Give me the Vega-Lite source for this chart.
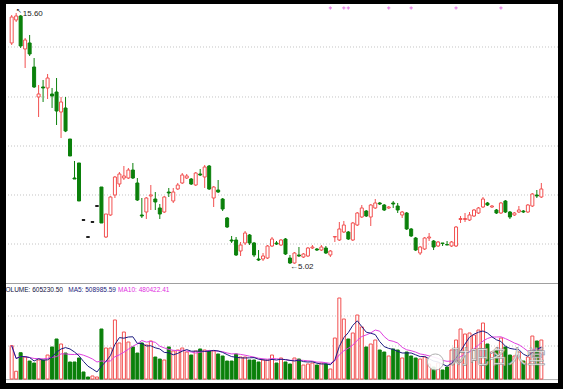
{
"$schema": "https://vega.github.io/schema/vega-lite/v6.json",
"background": "black",
"padding": {"left": 5, "top": 4, "right": 6, "bottom": 6},
"config": {"view": {"stroke": null, "fill": "white"}, "concat": {"spacing": 0}},
"datasets": {
"k": [
{"i":0,"o":14.336,"h":15.516,"l":14.251,"c":15.431,"d":"u","v":517000,"vd":"u"},
{"i":1,"o":15.305,"h":15.600,"l":15.221,"c":15.474,"d":"u","v":120000,"vd":"u"},
{"i":2,"o":15.474,"h":15.516,"l":14.125,"c":14.209,"d":"d","v":408000,"vd":"d"},
{"i":3,"o":14.083,"h":14.546,"l":13.282,"c":14.462,"d":"u","v":341000,"vd":"u"},
{"i":4,"o":14.336,"h":14.673,"l":13.788,"c":13.872,"d":"d","v":279000,"vd":"d"},
{"i":5,"o":13.324,"h":13.703,"l":12.439,"c":12.481,"d":"d","v":248000,"vd":"d"},
{"i":6,"o":12.059,"h":12.565,"l":11.216,"c":12.186,"d":"u","v":295000,"vd":"u"},
{"i":7,"o":12.481,"h":12.776,"l":11.849,"c":12.439,"d":"d","v":295000,"vd":"d"},
{"i":8,"o":12.439,"h":13.029,"l":11.975,"c":12.860,"d":"u","v":372000,"vd":"u"},
{"i":9,"o":12.186,"h":12.439,"l":11.596,"c":12.102,"d":"d","v":497000,"vd":"d"},
{"i":10,"o":12.270,"h":12.860,"l":10.879,"c":11.469,"d":"d","v":621000,"vd":"d"},
{"i":11,"o":11.427,"h":12.059,"l":10.331,"c":11.849,"d":"u","v":543000,"vd":"u"},
{"i":12,"o":11.596,"h":12.059,"l":10.580,"c":10.626,"d":"d","v":403000,"vd":"d"},
{"i":13,"o":10.289,"h":10.289,"l":9.573,"c":9.573,"d":"d","v":264000,"vd":"d"},
{"i":14,"o":8.645,"h":9.362,"l":8.603,"c":8.603,"d":"d","v":264000,"vd":"d"},
{"i":15,"o":9.278,"h":9.278,"l":7.676,"c":7.676,"d":"d","v":326000,"vd":"d"},
{"i":16,"o":6.885,"h":6.885,"l":6.865,"c":6.865,"d":"f","v":109000,"vd":"d"},
{"i":17,"o":6.168,"h":6.168,"l":6.148,"c":6.148,"d":"f","v":31000,"vd":"d"},
{"i":18,"o":6.801,"h":6.801,"l":6.781,"c":6.781,"d":"f","v":47000,"vd":"u"},
{"i":19,"o":7.475,"h":7.475,"l":7.455,"c":7.455,"d":"f","v":31000,"vd":"u"},
{"i":20,"o":8.266,"h":8.266,"l":6.749,"c":6.749,"d":"d","v":776000,"vd":"d"},
{"i":21,"o":6.158,"h":7.128,"l":6.116,"c":7.128,"d":"u","v":481000,"vd":"u"},
{"i":22,"o":7.086,"h":7.880,"l":7.050,"c":7.844,"d":"u","v":481000,"vd":"u"},
{"i":23,"o":7.929,"h":8.730,"l":7.802,"c":8.687,"d":"u","v":916000,"vd":"u"},
{"i":24,"o":8.392,"h":8.898,"l":8.266,"c":8.814,"d":"u","v":559000,"vd":"u"},
{"i":25,"o":8.645,"h":9.151,"l":8.561,"c":8.730,"d":"u","v":729000,"vd":"u"},
{"i":26,"o":8.645,"h":9.067,"l":8.603,"c":8.982,"d":"u","v":574000,"vd":"u"},
{"i":27,"o":8.982,"h":9.278,"l":8.603,"c":8.645,"d":"d","v":497000,"vd":"d"},
{"i":28,"o":8.435,"h":8.645,"l":7.676,"c":7.718,"d":"d","v":403000,"vd":"d"},
{"i":29,"o":7.086,"h":7.802,"l":6.959,"c":7.044,"d":"d","v":559000,"vd":"d"},
{"i":30,"o":7.212,"h":7.844,"l":6.917,"c":7.802,"d":"u","v":528000,"vd":"u"},
{"i":31,"o":7.887,"h":8.350,"l":7.296,"c":7.929,"d":"u","v":590000,"vd":"u"},
{"i":32,"o":7.760,"h":8.055,"l":7.296,"c":7.634,"d":"d","v":341000,"vd":"d"},
{"i":33,"o":7.381,"h":7.549,"l":6.917,"c":7.128,"d":"d","v":310000,"vd":"d"},
{"i":34,"o":7.212,"h":7.887,"l":7.170,"c":7.844,"d":"u","v":295000,"vd":"u"},
{"i":35,"o":8.055,"h":8.224,"l":7.844,"c":8.013,"d":"d","v":497000,"vd":"d"},
{"i":36,"o":7.676,"h":8.224,"l":7.592,"c":8.055,"d":"u","v":435000,"vd":"u"},
{"i":37,"o":8.182,"h":8.435,"l":8.139,"c":8.350,"d":"u","v":450000,"vd":"u"},
{"i":38,"o":8.435,"h":8.856,"l":8.392,"c":8.772,"d":"u","v":481000,"vd":"u"},
{"i":39,"o":8.645,"h":8.814,"l":8.603,"c":8.730,"d":"u","v":419000,"vd":"u"},
{"i":40,"o":8.603,"h":8.645,"l":8.350,"c":8.392,"d":"d","v":372000,"vd":"d"},
{"i":41,"o":8.350,"h":8.898,"l":8.308,"c":8.856,"d":"u","v":435000,"vd":"u"},
{"i":42,"o":8.814,"h":9.025,"l":8.730,"c":8.772,"d":"d","v":466000,"vd":"d"},
{"i":43,"o":8.687,"h":9.193,"l":8.224,"c":9.109,"d":"u","v":450000,"vd":"u"},
{"i":44,"o":9.151,"h":9.193,"l":8.140,"c":8.182,"d":"d","v":435000,"vd":"d"},
{"i":45,"o":7.802,"h":8.308,"l":7.423,"c":8.266,"d":"u","v":435000,"vd":"u"},
{"i":46,"o":8.139,"h":8.561,"l":8.013,"c":8.055,"d":"d","v":388000,"vd":"d"},
{"i":47,"o":7.760,"h":7.802,"l":7.254,"c":7.339,"d":"d","v":357000,"vd":"d"},
{"i":48,"o":6.959,"h":7.001,"l":6.538,"c":6.580,"d":"d","v":279000,"vd":"d"},
{"i":49,"o":6.032,"h":6.201,"l":5.906,"c":5.990,"d":"d","v":279000,"vd":"d"},
{"i":50,"o":6.032,"h":6.158,"l":5.358,"c":5.400,"d":"d","v":388000,"vd":"d"},
{"i":51,"o":5.568,"h":5.948,"l":5.358,"c":5.821,"d":"u","v":341000,"vd":"u"},
{"i":52,"o":5.906,"h":6.411,"l":5.821,"c":6.327,"d":"u","v":341000,"vd":"u"},
{"i":53,"o":6.243,"h":6.285,"l":5.821,"c":5.906,"d":"d","v":295000,"vd":"d"},
{"i":54,"o":5.906,"h":5.948,"l":5.315,"c":5.400,"d":"d","v":295000,"vd":"d"},
{"i":55,"o":5.231,"h":5.610,"l":5.147,"c":5.189,"d":"d","v":264000,"vd":"d"},
{"i":56,"o":5.231,"h":5.484,"l":5.147,"c":5.358,"d":"u","v":295000,"vd":"u"},
{"i":57,"o":5.273,"h":5.821,"l":5.231,"c":5.779,"d":"u","v":295000,"vd":"u"},
{"i":58,"o":5.779,"h":6.158,"l":5.737,"c":6.074,"d":"u","v":372000,"vd":"u"},
{"i":59,"o":5.906,"h":5.990,"l":5.821,"c":5.863,"d":"d","v":248000,"vd":"d"},
{"i":60,"o":5.821,"h":6.074,"l":5.779,"c":6.032,"d":"u","v":326000,"vd":"u"},
{"i":61,"o":6.074,"h":6.116,"l":5.400,"c":5.442,"d":"d","v":264000,"vd":"d"},
{"i":62,"o":5.273,"h":5.400,"l":5.020,"c":5.063,"d":"d","v":233000,"vd":"d"},
{"i":63,"o":5.063,"h":5.526,"l":5.030,"c":5.484,"d":"u","v":326000,"vd":"u"},
{"i":64,"o":5.400,"h":5.737,"l":5.315,"c":5.358,"d":"d","v":310000,"vd":"d"},
{"i":65,"o":5.315,"h":5.484,"l":5.273,"c":5.442,"d":"u","v":217000,"vd":"u"},
{"i":66,"o":5.358,"h":5.737,"l":5.315,"c":5.695,"d":"u","v":233000,"vd":"u"},
{"i":67,"o":5.695,"h":5.821,"l":5.653,"c":5.737,"d":"u","v":248000,"vd":"u"},
{"i":68,"o":5.653,"h":5.695,"l":5.568,"c":5.610,"d":"d","v":217000,"vd":"d"},
{"i":69,"o":5.610,"h":5.821,"l":5.568,"c":5.737,"d":"u","v":248000,"vd":"u"},
{"i":70,"o":5.695,"h":5.779,"l":5.442,"c":5.484,"d":"d","v":233000,"vd":"d"},
{"i":71,"o":5.400,"h":5.610,"l":5.315,"c":5.568,"d":"u","v":155000,"vd":"u"},
{"i":72,"o":6.158,"h":6.180,"l":5.948,"c":6.178,"d":"u","v":636000,"vd":"u"},
{"i":73,"o":6.032,"h":6.791,"l":5.990,"c":6.496,"d":"u","v":1257000,"vd":"u"},
{"i":74,"o":6.369,"h":6.833,"l":6.327,"c":6.664,"d":"u","v":931000,"vd":"u"},
{"i":75,"o":6.369,"h":6.411,"l":6.032,"c":6.074,"d":"d","v":621000,"vd":"d"},
{"i":76,"o":6.032,"h":6.791,"l":5.990,"c":6.749,"d":"u","v":714000,"vd":"u"},
{"i":77,"o":6.664,"h":7.212,"l":6.622,"c":7.170,"d":"u","v":993000,"vd":"u"},
{"i":78,"o":7.001,"h":7.507,"l":6.959,"c":7.381,"d":"u","v":807000,"vd":"u"},
{"i":79,"o":7.254,"h":7.296,"l":7.001,"c":7.044,"d":"d","v":497000,"vd":"d"},
{"i":80,"o":7.001,"h":7.549,"l":6.622,"c":7.507,"d":"u","v":543000,"vd":"u"},
{"i":81,"o":7.381,"h":7.760,"l":7.339,"c":7.592,"d":"u","v":605000,"vd":"u"},
{"i":82,"o":7.592,"h":7.634,"l":7.507,"c":7.549,"d":"d","v":450000,"vd":"d"},
{"i":83,"o":7.507,"h":7.549,"l":7.254,"c":7.296,"d":"d","v":419000,"vd":"d"},
{"i":84,"o":7.381,"h":7.465,"l":7.339,"c":7.423,"d":"u","v":357000,"vd":"u"},
{"i":85,"o":7.592,"h":7.676,"l":7.381,"c":7.549,"d":"d","v":466000,"vd":"d"},
{"i":86,"o":7.465,"h":7.592,"l":7.170,"c":7.296,"d":"d","v":450000,"vd":"d"},
{"i":87,"o":7.086,"h":7.254,"l":6.959,"c":7.212,"d":"u","v":326000,"vd":"u"},
{"i":88,"o":7.170,"h":7.212,"l":6.454,"c":6.496,"d":"d","v":419000,"vd":"d"},
{"i":89,"o":6.496,"h":6.538,"l":6.158,"c":6.201,"d":"d","v":357000,"vd":"d"},
{"i":90,"o":6.116,"h":6.158,"l":5.568,"c":5.610,"d":"d","v":326000,"vd":"d"},
{"i":91,"o":5.484,"h":5.779,"l":5.400,"c":5.737,"d":"u","v":310000,"vd":"u"},
{"i":92,"o":5.653,"h":6.158,"l":5.610,"c":6.116,"d":"u","v":341000,"vd":"u"},
{"i":93,"o":6.116,"h":6.327,"l":5.990,"c":6.158,"d":"u","v":233000,"vd":"u"},
{"i":94,"o":5.990,"h":6.032,"l":5.610,"c":5.737,"d":"d","v":186000,"vd":"d"},
{"i":95,"o":5.779,"h":5.990,"l":5.737,"c":5.948,"d":"u","v":248000,"vd":"u"},
{"i":96,"o":5.906,"h":5.906,"l":5.779,"c":5.885,"d":"d","v":140000,"vd":"d"},
{"i":97,"o":5.842,"h":5.990,"l":5.821,"c":5.821,"d":"d","v":186000,"vd":"d"},
{"i":98,"o":5.779,"h":5.990,"l":5.737,"c":5.948,"d":"u","v":450000,"vd":"u"},
{"i":99,"o":5.779,"h":6.622,"l":5.737,"c":6.580,"d":"u","v":605000,"vd":"u"},
{"i":100,"o":6.896,"h":7.044,"l":6.749,"c":6.938,"d":"u","v":776000,"vd":"u"},
{"i":101,"o":6.896,"h":7.170,"l":6.791,"c":6.938,"d":"u","v":698000,"vd":"u"},
{"i":102,"o":6.875,"h":7.212,"l":6.833,"c":7.086,"d":"u","v":714000,"vd":"u"},
{"i":103,"o":7.044,"h":7.339,"l":7.001,"c":7.296,"d":"u","v":683000,"vd":"u"},
{"i":104,"o":7.170,"h":7.423,"l":7.128,"c":7.381,"d":"u","v":760000,"vd":"u"},
{"i":105,"o":7.423,"h":7.844,"l":7.381,"c":7.760,"d":"u","v":869000,"vd":"u"},
{"i":106,"o":7.592,"h":7.634,"l":7.465,"c":7.507,"d":"d","v":543000,"vd":"d"},
{"i":107,"o":7.423,"h":7.507,"l":7.381,"c":7.465,"d":"u","v":419000,"vd":"u"},
{"i":108,"o":7.296,"h":7.339,"l":7.128,"c":7.170,"d":"d","v":450000,"vd":"d"},
{"i":109,"o":7.170,"h":7.634,"l":7.128,"c":7.592,"d":"u","v":636000,"vd":"u"},
{"i":110,"o":7.676,"h":7.718,"l":7.170,"c":7.212,"d":"d","v":497000,"vd":"d"},
{"i":111,"o":7.212,"h":7.254,"l":6.917,"c":7.001,"d":"d","v":372000,"vd":"d"},
{"i":112,"o":7.086,"h":7.212,"l":7.044,"c":7.170,"d":"u","v":357000,"vd":"u"},
{"i":113,"o":7.212,"h":7.465,"l":7.170,"c":7.296,"d":"u","v":419000,"vd":"u"},
{"i":114,"o":7.254,"h":7.296,"l":7.170,"c":7.212,"d":"d","v":279000,"vd":"d"},
{"i":115,"o":7.212,"h":7.549,"l":7.170,"c":7.507,"d":"u","v":341000,"vd":"u"},
{"i":116,"o":7.465,"h":8.013,"l":7.423,"c":7.971,"d":"u","v":667000,"vd":"u"},
{"i":117,"o":7.929,"h":8.139,"l":7.802,"c":7.887,"d":"d","v":590000,"vd":"d"},
{"i":118,"o":7.844,"h":8.435,"l":7.802,"c":8.182,"d":"u","v":605230.5,"vd":"u"}
],
"pg": [{"g":14.167},{"g":12.06},{"g":9.994},{"g":7.929},{"g":5.863}],
"vg": [{"g":977700},{"g":512100}],
"ev": [{"i":71},{"i":74},{"i":75},{"i":84},{"i":89},{"i":99},{"i":109}]
},
"vconcat": [
{
"width": 552, "height": 278,
"layer": [
{"data": {"name": "pg"}, "mark": {"type": "rule", "stroke": "#c4c4c4", "strokeDash": [1, 2], "strokeWidth": 1},
 "encoding": {"y": {"field": "g", "type": "quantitative", "scale": {"domain": [4.262, 15.979], "nice": false, "zero": false}, "axis": null}}},
{"data": {"name": "ev"}, "mark": {"type": "point", "shape": "cross", "filled": true, "size": 10, "color": "#e050e0"},
 "encoding": {"x": {"field": "i", "type": "quantitative", "scale": {"domain": [-0.15, 120.6], "nice": false, "zero": false}, "axis": null},
  "y": {"datum": 15.811, "type": "quantitative"}}},
{"data": {"name": "k"}, "mark": {"type": "rule", "strokeWidth": 1},
 "encoding": {"x": {"field": "i", "type": "quantitative", "scale": {"domain": [-0.15, 120.6], "nice": false, "zero": false}, "axis": null},
  "y": {"field": "l", "type": "quantitative"}, "y2": {"field": "h"},
  "stroke": {"field": "d", "type": "nominal", "scale": {"domain": ["u", "d", "f"], "range": ["#f25050", "#0b800b", "#000000"]}, "legend": null}}},
{"data": {"name": "k"}, "mark": {"type": "bar", "size": 3, "strokeWidth": 1},
 "encoding": {"x": {"field": "i", "type": "quantitative", "scale": {"domain": [-0.15, 120.6], "nice": false, "zero": false}, "axis": null},
  "y": {"field": "o", "type": "quantitative"}, "y2": {"field": "c"},
  "fill": {"field": "d", "type": "nominal", "scale": {"domain": ["u", "d", "f"], "range": ["#ffffff", "#0b800b", "#000000"]}, "legend": null},
  "stroke": {"field": "d", "type": "nominal", "scale": {"domain": ["u", "d", "f"], "range": ["#f25050", "#0b800b", "#000000"]}, "legend": null}}},
{"data": {"values": [{}]}, "mark": {"type": "text", "text": "15.60", "align": "left", "baseline": "middle", "font": "Liberation Sans", "fontSize": 8, "color": "#222222"},
 "encoding": {"x": {"datum": 2.47, "type": "quantitative"}, "y": {"datum": 15.558, "type": "quantitative"}}},
{"data": {"values": [{}]}, "mark": {"type": "text", "text": "↖", "align": "center", "baseline": "middle", "font": "DejaVu Sans", "fontSize": 7, "color": "#222222"},
 "encoding": {"x": {"datum": 1.6, "type": "quantitative"}, "y": {"datum": 15.705, "type": "quantitative"}}},
{"data": {"values": [{}]}, "mark": {"type": "text", "text": "←5.02", "align": "left", "baseline": "middle", "font": "Liberation Sans", "fontSize": 8, "color": "#222222"},
 "encoding": {"x": {"datum": 62.0, "type": "quantitative"}, "y": {"datum": 4.894, "type": "quantitative"}}}
]
},
{
"width": 552, "height": 101,
"layer": [
{"data": {"name": "vg"}, "mark": {"type": "rule", "stroke": "#c4c4c4", "strokeDash": [1, 2], "strokeWidth": 1},
 "encoding": {"y": {"field": "g", "type": "quantitative", "scale": {"domain": [-62076, 1505343], "nice": false, "zero": false}, "axis": null}}},
{"data": {"values": [{}]}, "mark": {"type": "rule", "stroke": "#a0a0a0", "strokeWidth": 1},
 "encoding": {"y": {"datum": 1482000, "type": "quantitative"}}},
{"data": {"values": [{}]}, "mark": {"type": "rule", "stroke": "#b0b0b0", "strokeWidth": 1},
 "encoding": {"y": {"datum": -9000, "type": "quantitative"}}},
{"data": {"name": "k"}, "mark": {"type": "bar", "size": 3, "strokeWidth": 1},
 "encoding": {"x": {"field": "i", "type": "quantitative", "scale": {"domain": [-0.15, 120.6], "nice": false, "zero": false}, "axis": null},
  "y": {"field": "v", "type": "quantitative"}, "y2": {"datum": 0},
  "fill": {"field": "vd", "type": "nominal", "scale": {"domain": ["u", "d"], "range": ["#ffe2e2", "#0b800b"]}, "legend": null},
  "stroke": {"field": "vd", "type": "nominal", "scale": {"domain": ["u", "d"], "range": ["#f06060", "#0b800b"]}, "legend": null}}},
{"data": {"name": "k"},
 "transform": [{"window": [{"op": "mean", "field": "v", "as": "m10"}], "frame": [-9, 0], "sort": [{"field": "i"}]}],
 "mark": {"type": "line", "color": "#e040e0", "strokeWidth": 1},
 "encoding": {"x": {"field": "i", "type": "quantitative", "scale": {"domain": [-0.15, 120.6], "nice": false, "zero": false}, "axis": null},
  "y": {"field": "m10", "type": "quantitative"}}},
{"data": {"name": "k"},
 "transform": [{"window": [{"op": "mean", "field": "v", "as": "m5"}], "frame": [-4, 0], "sort": [{"field": "i"}]}],
 "mark": {"type": "line", "color": "#1c1c80", "strokeWidth": 1},
 "encoding": {"x": {"field": "i", "type": "quantitative", "scale": {"domain": [-0.15, 120.6], "nice": false, "zero": false}, "axis": null},
  "y": {"field": "m5", "type": "quantitative"}}},
{"data": {"values": [{}]}, "mark": {"type": "point", "shape": "circle", "size": 260, "filled": true, "fill": "#ffffff", "stroke": "#a8a8a8", "strokeWidth": 1, "opacity": 0.9},
 "encoding": {"x": {"datum": 94.4, "type": "quantitative"}, "y": {"datum": 263800, "type": "quantitative"}}},
{"data": {"values": [{}]}, "mark": {"type": "text", "text": "财吧名人堂", "align": "center", "baseline": "middle", "font": "Noto Sans CJK SC", "fontSize": 19, "fill": "#ffffff", "fillOpacity": 0.85, "stroke": "#8a8a8a", "strokeWidth": 0.6},
 "encoding": {"x": {"datum": 108.4, "type": "quantitative"}, "y": {"datum": 325900, "type": "quantitative"}}},
{"data": {"values": [{}]}, "mark": {"type": "text", "text": "VOLUME: 605230.50", "align": "left", "baseline": "middle", "font": "Liberation Sans", "fontSize": 6.5, "color": "#101040", "clip": true},
 "encoding": {"x": {"datum": -2.34, "type": "quantitative"}, "y": {"datum": 1388950, "type": "quantitative"}}},
{"data": {"values": [{}]}, "mark": {"type": "text", "text": "MA5: 508985.59", "align": "left", "baseline": "middle", "font": "Liberation Sans", "fontSize": 6.5, "color": "#1a1a7a"},
 "encoding": {"x": {"datum": 12.6, "type": "quantitative"}, "y": {"datum": 1388950, "type": "quantitative"}}},
{"data": {"values": [{}]}, "mark": {"type": "text", "text": "MA10: 480422.41", "align": "left", "baseline": "middle", "font": "Liberation Sans", "fontSize": 6.5, "color": "#e030e0"},
 "encoding": {"x": {"datum": 23.7, "type": "quantitative"}, "y": {"datum": 1388950, "type": "quantitative"}}}
]
}
]
}
